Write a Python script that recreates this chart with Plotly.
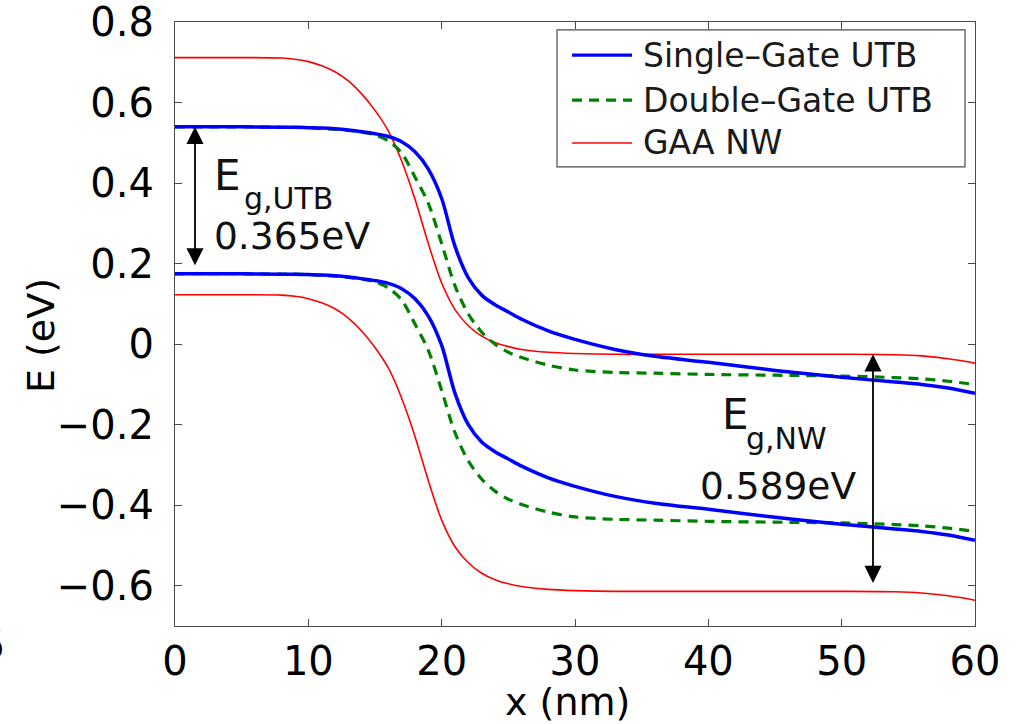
import plotly.graph_objects as go

# Position along the channel (nm)
x_nm = [0, 5, 8, 9, 10, 11, 12, 13, 14, 15, 16, 17, 18, 19, 20, 21, 22, 23, 24, 25, 26,
        28, 30, 33, 36, 40, 45, 50, 54, 56, 58, 60]

# Conduction-band edge (eV) for each device
ec_single_gate = [0.540, 0.540, 0.539, 0.539, 0.538, 0.537, 0.535, 0.532, 0.528, 0.523,
                  0.516, 0.503, 0.478, 0.435, 0.362, 0.243, 0.165, 0.122, 0.098, 0.080,
                  0.062, 0.033, 0.012, -0.013, -0.030, -0.045, -0.065, -0.082, -0.094,
                  -0.100, -0.109, -0.122]
ec_double_gate = [0.540, 0.540, 0.539, 0.539, 0.538, 0.536, 0.534, 0.531, 0.527, 0.520,
                  0.505, 0.475, 0.415, 0.350, 0.250, 0.145, 0.075, 0.030, 0.000, -0.020,
                  -0.033, -0.052, -0.064, -0.070, -0.072, -0.075, -0.077, -0.079, -0.083,
                  -0.086, -0.092, -0.100]
ec_gaa_nw = [0.712, 0.712, 0.711, 0.708, 0.702, 0.692, 0.677, 0.654, 0.622, 0.581,
             0.530, 0.455, 0.360, 0.250, 0.152, 0.086, 0.046, 0.020, 0.004, -0.006,
             -0.013, -0.020, -0.023, -0.025, -0.025, -0.025, -0.025, -0.025, -0.026,
             -0.029, -0.036, -0.047]

# Band gaps (eV)
EG_UTB = 0.365
EG_NW = 0.589

# Valence-band edge = conduction-band edge minus the gap
ev_single_gate = [v - EG_UTB for v in ec_single_gate]
ev_double_gate = [v - EG_UTB for v in ec_double_gate]
ev_gaa_nw = [v - EG_NW for v in ec_gaa_nw]

series_names = ["Single\u2013Gate UTB", "Double\u2013Gate UTB", "GAA NW"]
series_styles = [
    dict(color="#0000FF", width=3.5, dash="solid"),
    dict(color="#008000", width=3.2, dash="10px,7px"),
    dict(color="#FF0000", width=1.6, dash="solid"),
]
bands = [(ec_single_gate, ev_single_gate), (ec_double_gate, ev_double_gate),
         (ec_gaa_nw, ev_gaa_nw)]

# Arrow positions (nm)
X_ARROW_UTB = 1.5
X_ARROW_NW = 52.35
EC_NW_AT_ARROW = -0.025

FONT = "DejaVu Sans, sans-serif"
AXIS_COLOR = "#4a4a4a"

fig = go.Figure()

# Red curves first, then green, then blue on top
for idx in [2, 1, 0]:
    ec, ev = bands[idx]
    st = series_styles[idx]
    for band in (ec, ev):
        fig.add_trace(go.Scatter(
            x=x_nm, y=band, mode="lines",
            line=dict(color=st["color"], width=st["width"], dash=st["dash"],
                      shape="spline", smoothing=0.85),
            showlegend=False, hoverinfo="skip"))

annotations = []

# Double-headed gap arrows
for xa, top, gap in [(X_ARROW_UTB, ec_single_gate[0], EG_UTB),
                     (X_ARROW_NW, EC_NW_AT_ARROW, EG_NW)]:
    annotations.append(dict(
        x=xa, y=top, ax=xa, ay=top - gap,
        xref="x", yref="y", axref="x", ayref="y", text="", showarrow=True,
        arrowhead=2, startarrowhead=2, arrowside="end+start", arrowsize=1.9,
        startarrowsize=1.9, arrowwidth=1.8, arrowcolor="black",
        standoff=0, startstandoff=7))

def label(x, y, text, size):
    annotations.append(dict(x=x, y=y, xref="x", yref="y", text=text, showarrow=False,
                            xanchor="left", yanchor="middle",
                            font=dict(family=FONT, size=size, color="#111111")))

label(2.75, 0.420, "E", 42)
label(5.05, 0.362, "g,UTB", 30)
label(2.75, 0.268, f"{EG_UTB:.3f}eV", 37.5)
label(40.9, -0.175, "E", 42)
label(42.65, -0.235, "g,NW", 30)
label(39.2, -0.352, f"{EG_NW:.3f}eV", 37.5)

# Legend box drawn in paper coordinates
shapes = [dict(type="rect", xref="paper", yref="paper", x0=0.4775, x1=0.9875,
               y0=0.760, y1=0.9868, line=dict(color=AXIS_COLOR, width=1.2),
               fillcolor="white", layer="above")]
row_y = [0.9453, 0.8708, 0.7997]
for name, st, yy in zip(series_names, series_styles, row_y):
    shapes.append(dict(type="line", xref="paper", yref="paper", x0=0.4963, x1=0.5713,
                       y0=yy, y1=yy, layer="above",
                       line=dict(color=st["color"], width=min(st["width"], 3.2),
                                 dash=st["dash"])))
    annotations.append(dict(x=0.582, y=yy, xref="paper", yref="paper", text=name,
                            showarrow=False, xanchor="left", yanchor="middle",
                            font=dict(family=FONT, size=33, color="#1a1a1a")))

# Axis titles
annotations.append(dict(x=0.491, y=-0.1255, xref="paper", yref="paper", text="x (nm)",
                        showarrow=False, xanchor="center", yanchor="middle",
                        font=dict(family=FONT, size=38, color="black")))
annotations.append(dict(x=-0.1675, y=0.480, xref="paper", yref="paper", text="E (eV)",
                        showarrow=False, xanchor="center", yanchor="middle",
                        textangle=-90, font=dict(family=FONT, size=38, color="black")))

# Edge of a neighbouring panel's label at the far left
annotations.append(dict(x=-0.21, y=-0.032, xref="paper", yref="paper", text="5",
                        showarrow=False, xanchor="right", yanchor="middle",
                        font=dict(family=FONT, size=40, color="black")))

y_ticks = [0.8, 0.6, 0.4, 0.2, 0, -0.2, -0.4, -0.6]
y_tick_text = ["0.8", "0.6", "0.4", "0.2", "0", "\u22120.2", "\u22120.4", "\u22120.6"]
x_ticks = [0, 10, 20, 30, 40, 50, 60]

fig.update_layout(
    width=1023, height=724,
    margin=dict(l=175, r=48, t=22, b=98, autoexpand=False),
    paper_bgcolor="white", plot_bgcolor="white",
    font=dict(family=FONT, size=40, color="black"),
    showlegend=False,
    annotations=annotations, shapes=shapes,
    xaxis=dict(range=[0, 60], tickvals=x_ticks, ticks="inside", ticklen=7,
               tickcolor=AXIS_COLOR, showline=True, linecolor=AXIS_COLOR, linewidth=1.2,
               mirror="ticks", showgrid=False, zeroline=False, automargin=False,
               ticklabeloverflow="allow",
               tickfont=dict(family=FONT, size=40, color="black")),
    yaxis=dict(range=[-0.7, 0.8005], tickvals=y_ticks, ticktext=y_tick_text,
               ticks="inside", ticklen=7, tickcolor=AXIS_COLOR, showline=True,
               linecolor=AXIS_COLOR, linewidth=1.2, mirror="ticks", showgrid=False,
               zeroline=False, ticklabelstandoff=12, ticklabeloverflow="allow",
               automargin=False,
               tickfont=dict(family=FONT, size=40, color="black")),
)

fig.write_html("out.html")
